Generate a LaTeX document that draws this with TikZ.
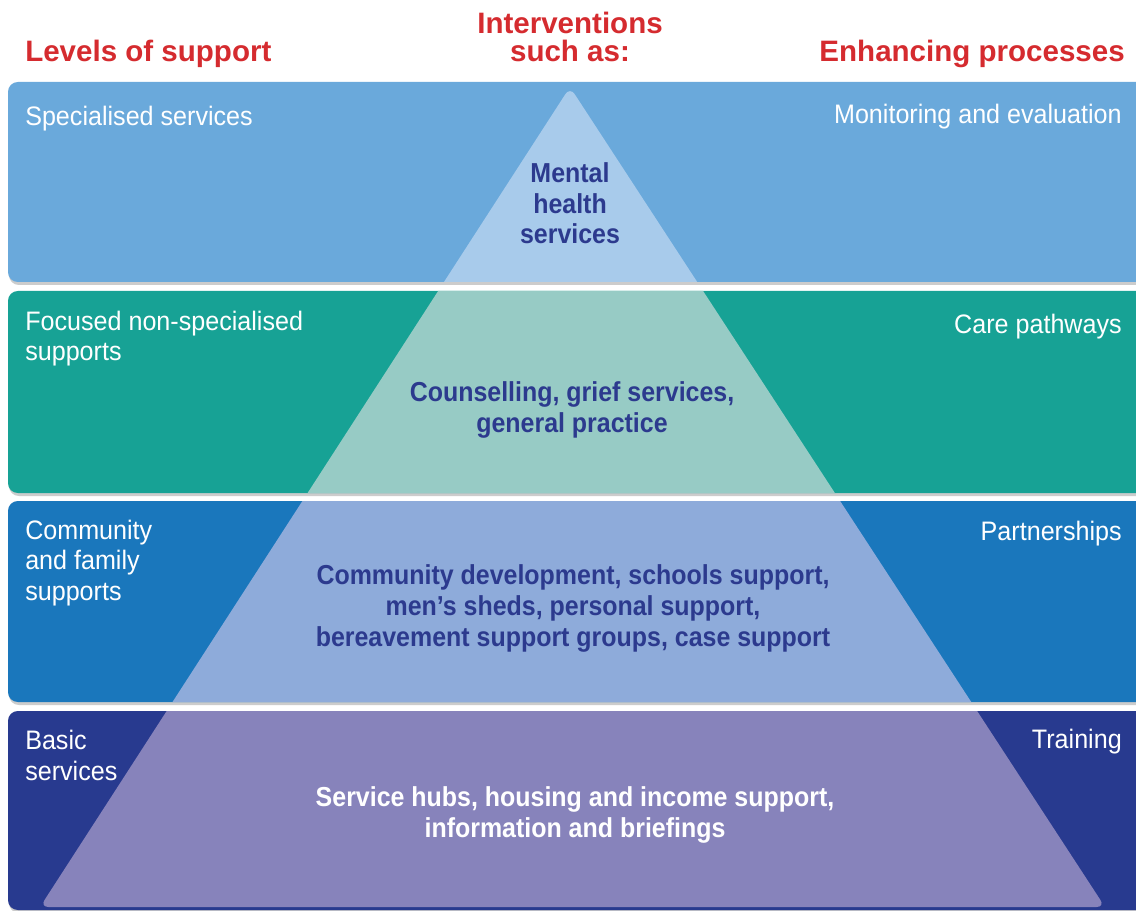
\documentclass[tikz,border=0pt]{standalone}
\usepackage{fontspec}
\setmainfont{Liberation Sans}
\newfontfamily\narrowfont{Liberation Sans}[FakeStretch=0.94]
\newfontfamily\narrowbold{Liberation Sans Bold}[FakeStretch=0.91]
\definecolor{bandA}{HTML}{6AA9DB}
\definecolor{bandB}{HTML}{17A295}
\definecolor{bandC}{HTML}{1A77BC}
\definecolor{bandD}{HTML}{283A8F}
\definecolor{triA}{HTML}{A8CBEB}
\definecolor{triB}{HTML}{97CBC5}
\definecolor{triC}{HTML}{8EABDA}
\definecolor{triD}{HTML}{8783BB}
\definecolor{headred}{HTML}{D52B2F}
\definecolor{darkblue}{HTML}{2C3A8E}

\begin{document}
\begin{tikzpicture}[x=0.025cm, y=-0.025cm,
    band/.style={rounded corners=7pt},
    head/.style={font=\bfseries\fontsize{21}{20}\selectfont, text=headred, inner sep=0pt, align=center},
    lvl/.style={font=\narrowfont\fontsize{19}{21.5}\selectfont, text=white, inner sep=0pt, align=left},
    intv/.style={font=\narrowbold\fontsize{19.5}{22}\selectfont, text=darkblue, inner sep=0pt, align=center}]
    \useasboundingbox (0,0) rectangle (1136,911);
    \clip (0,0) rectangle (1136,911);
    \fill[white] (0,0) rectangle (1136,911);
    % bands with the pyramid showing through
    \foreach \top/\bot/\col/\tri in {82/282/bandA/triA, 291/493/bandB/triB, 501/702/bandC/triC, 711/910/bandD/triD} {
        \fill[black!20, band] (9,\top+3) rectangle (1160,\bot+3);
        \fill[\col, band] (8,\top) rectangle (1160,\bot);
        \begin{scope}
            \clip[band] (8,\top) rectangle (1160,\bot);
            \fill[\tri, rounded corners=6pt] (570,87) -- (1105,907) -- (40,907) -- cycle;
        \end{scope}
    }
    % headings (base = last line)
    \node[head, anchor=base west] (levels) at (25,62) {Levels of support};
    \node[head, anchor=base] (interv) at (570,62) {Interventions\\such as:};
    \node[head, anchor=base east] (enhance) at (1125,62) {Enhancing processes};
    % levels and processes
    \node[lvl, anchor=base west] (spec) at (25,126) {Specialised services};
    \node[lvl, anchor=base east] (monit) at (1122,124) {Monitoring and evaluation};
    \node[lvl, anchor=base west] (focus) at (25,361) {Focused non-specialised\\supports};
    \node[lvl, anchor=base east] (care) at (1122,334) {Care pathways};
    \node[lvl, anchor=base west] (commun) at (25,600) {Community\\and family\\supports};
    \node[lvl, anchor=base east] (partner) at (1122,540) {Partnerships};
    \node[lvl, anchor=base west] (basic) at (25,780) {Basic\\services};
    \node[lvl, anchor=base east] (train) at (1122,748) {Training};
    % interventions
    \node[intv, anchor=base] (mental) at (570,244) {Mental\\health\\services};
    \node[intv, anchor=base] (counsel) at (572,432) {Counselling, grief services,\\general practice};
    \node[intv, anchor=base] (commdev) at (573,646) {Community development, schools support,\\men’s sheds, personal support,\\bereavement support groups, case support};
    \node[intv, text=white, anchor=base] (hubs) at (575,837) {Service hubs, housing and income support,\\information and briefings};
\end{tikzpicture}
\end{document}
